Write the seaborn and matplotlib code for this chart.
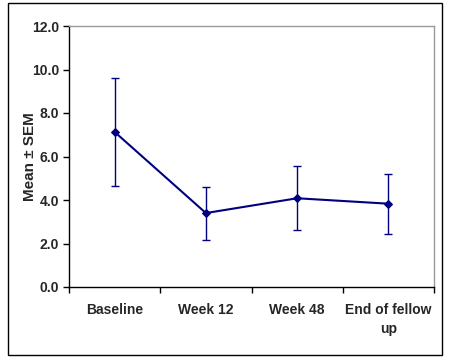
import numpy as np
import pandas as pd
import seaborn as sns
from matplotlib import pyplot as plt
from matplotlib.patches import Rectangle

# data
timepoints = ["Baseline", "Week 12", "Week 48", "End of fellow\nup"]
means = [7.13, 3.40, 4.08, 3.83]
sem = [2.50, 1.22, 1.48, 1.38]

df = pd.DataFrame({"pos": np.arange(len(timepoints)), "mean": means, "sem": sem})

sns.set_style("white")
plt.rcParams['font.family'] = ['Liberation Sans', 'DejaVu Sans']
plt.rcParams['font.weight'] = 'bold'

fig = plt.figure(figsize=(4.5, 3.6), dpi=100)
ax = fig.add_axes([69/450, 1 - 287/360, (434-69)/450, (287-26)/360])

navy = "#000080"
sns.lineplot(data=df, x="pos", y="mean", color=navy, marker="D", markersize=4,
             markeredgecolor=navy, linewidth=1.5, ax=ax)
ax.errorbar(df["pos"], df["mean"], yerr=df["sem"], fmt="none", ecolor=navy,
            elinewidth=1, capsize=3, capthick=1)

ax.set_xlim(-0.5, 3.5)
ax.set_ylim(0, 12)
yt = np.arange(0, 12.1, 2)
ax.set_yticks(yt)
ax.set_yticklabels([f"{v:.1f}" for v in yt], fontsize=10, fontweight="bold")
ax.set_xticks(np.arange(-0.5, 3.6, 1))
ax.set_xticklabels([])
ax.tick_params(axis="both", direction="out", length=4, width=1, color="black",
               left=True, bottom=True, pad=3)
for i, lab in enumerate(timepoints):
    ax.text(i, -0.75, lab, ha="center", va="top", fontsize=10, fontweight="bold",
            linespacing=1.45)
ax.set_xlabel("")
ax.set_ylabel("Mean ± SEM", fontsize=11, fontweight="bold")
ax.yaxis.set_label_coords(-0.087, 0.5)

ax.spines["left"].set_color("black")
ax.spines["bottom"].set_color("black")
ax.spines["top"].set_color("#999999")
ax.spines["right"].set_color("#999999")
for s in ax.spines.values():
    s.set_linewidth(1)

fig.patches.append(Rectangle((8/450, 5/360), 434/450, 352/360, transform=fig.transFigure,
                             fill=False, edgecolor="black", linewidth=1))

fig.savefig("out.png", dpi=100)
